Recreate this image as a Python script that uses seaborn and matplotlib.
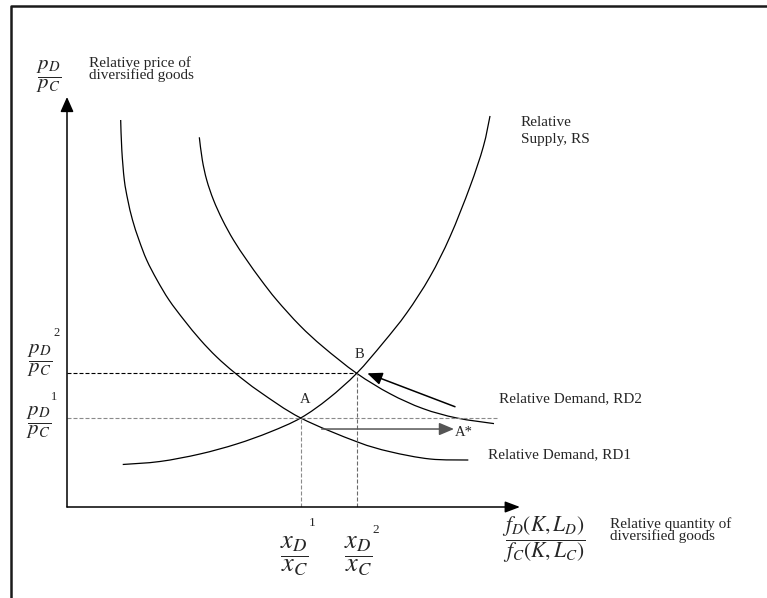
import matplotlib
matplotlib.use("Agg")
import matplotlib.pyplot as plt
from matplotlib.lines import Line2D
from matplotlib.path import Path
from matplotlib.patches import PathPatch
import numpy as np
import seaborn as sns

# Relative demand before the shift (RD1)
rd1_x = [1.185, 1.210, 1.265, 1.342, 1.446, 1.589, 1.759, 1.987, 2.252, 2.583,
         2.947, 3.305, 3.709, 4.260, 5.159, 6.395, 7.130, 8.013, 8.859]
rd1_y = [9.439, 8.707, 7.976, 7.488, 7.000, 6.512, 6.024, 5.537, 5.049, 4.561,
         4.073, 3.659, 3.268, 2.805, 2.171, 1.593, 1.349, 1.171, 1.146]

# Relative demand after the shift (RD2)
rd2_x = [2.921, 2.987, 3.084, 3.234, 3.433, 3.675, 3.967, 4.283, 4.629, 5.143,
         5.658, 6.395, 7.130, 7.859, 8.603, 9.426]
rd2_y = [9.017, 8.463, 7.976, 7.488, 7.000, 6.512, 6.024, 5.537, 5.049, 4.424,
         3.902, 3.261, 2.763, 2.400, 2.171, 2.034]

# Relative supply (RS)
rs_x = [1.230, 2.053, 2.936, 3.746, 4.481, 5.159, 5.777, 6.395, 6.976, 7.499,
        8.013, 8.455, 8.896, 9.190, 9.338]
rs_y = [1.037, 1.110, 1.293, 1.537, 1.829, 2.171, 2.649, 3.261, 4.000, 4.732,
        5.617, 6.593, 7.812, 8.788, 9.537]

# Equilibria: A (RS with RD1) and B (RS with RD2)
eq_names = ["A", "B"]
eq_x = [5.159, 6.395]
eq_y = [2.171, 3.261]

# Shift arrows: A -> A* at the old price, then back up to B
shift_start = [(5.622, 1.902), (8.565, 2.446)]
shift_end = [(8.543, 1.902), (6.629, 3.261)]
shift_colors = ["#555555", "black"]
gray_line_end = 9.514


def smooth_path(xs, ys):
    """Cubic Bezier path passing through every point (Catmull-Rom tangents)."""
    p = np.column_stack([xs, ys]).astype(float)
    n = len(p)
    verts = [p[0]]
    codes = [Path.MOVETO]
    for i in range(n - 1):
        p_prev = p[i - 1] if i > 0 else p[i]
        p_next2 = p[i + 2] if i + 2 < n else p[i + 1]
        c1 = p[i] + (p[i + 1] - p_prev) / 6.0
        c2 = p[i + 1] - (p_next2 - p[i]) / 6.0
        verts += [c1, c2, p[i + 1]]
        codes += [Path.CURVE4] * 3
    return Path(verts, codes)


sns.set_theme(style="white")
plt.rcParams["font.family"] = ["Liberation Serif", "DejaVu Serif"]
plt.rcParams["mathtext.fontset"] = "stix"

fig = plt.figure(figsize=(7.67, 5.98), dpi=100)
ax = fig.add_axes([67 / 767, 91 / 598, 453 / 767, 410 / 598])
ax.set_xlim(0, 10)
ax.set_ylim(0, 10)
ax.set_axis_off()

# Page border (top and left)
fig.add_artist(Line2D([11 / 767, 11 / 767, 1.0], [0.0, 1 - 6 / 598, 1 - 6 / 598],
                      transform=fig.transFigure, color="#1a1a1a", lw=1.8))

# Axes drawn as arrows
ax.annotate("", xy=(10, 0), xytext=(0, 0),
            arrowprops=dict(arrowstyle="-|>,head_length=0.45,head_width=0.17",
                            color="black", lw=1.1, shrinkA=0, shrinkB=0,
                            mutation_scale=20),
            annotation_clip=False)
ax.annotate("", xy=(0, 10), xytext=(0, 0),
            arrowprops=dict(arrowstyle="-|>,head_length=0.45,head_width=0.2",
                            color="black", lw=1.1, shrinkA=0, shrinkB=0,
                            mutation_scale=20),
            annotation_clip=False)

# Demand and supply curves
for xs, ys in [(rd1_x, rd1_y), (rd2_x, rd2_y), (rs_x, rs_y)]:
    ax.add_patch(PathPatch(smooth_path(xs, ys), fill=False, edgecolor="black",
                           lw=0.9, capstyle="butt"))

# Guide lines to the axes
dash = (0, (3.6, 1.8))
xa, xb = eq_x
ya, yb = eq_y
guides = [([0, gray_line_end], [ya, ya], "#8a8a8a"),
          ([0, xb], [yb, yb], "black"),
          ([xa, xa], [0, ya], "#8a8a8a"),
          ([xb, xb], [0, yb], "#6a6a6a")]
for gx, gy, gc in guides:
    sns.lineplot(x=gx, y=gy, sort=False, estimator=None, color=gc, lw=0.8,
                 linestyle=dash, ax=ax)

# Shift arrows
for (x0, y0), (x1, y1), c in zip(shift_start, shift_end, shift_colors):
    ax.annotate("", xy=(x1, y1), xytext=(x0, y0),
                arrowprops=dict(arrowstyle="-|>,head_length=0.45,head_width=0.19",
                                color=c, lw=1.1, shrinkA=0, shrinkB=0,
                                mutation_scale=20))

# Point labels
ax.text(xa + 0.095, ya + 0.46, eq_names[0], fontsize=10.5, ha="center", va="center")
ax.text(xb + 0.06, yb + 0.45, eq_names[1], fontsize=10.5, ha="center", va="center")
ax.text(8.565, 1.829, "A*", fontsize=10.5, ha="left", va="center")

# Curve labels
ax.text(9.536, 2.634, "Relative Demand, RD2", fontsize=11, ha="left", va="center")
ax.text(9.294, 1.268, "Relative Demand, RD1", fontsize=11, ha="left", va="center")
ax.text(10.022, 9.171, "Relative\nSupply, RS", fontsize=11, ha="left", va="center",
        linespacing=1.45)

# Axis titles
ax.text(0.486, 10.683, "Relative price of\ndiversified goods", fontsize=11,
        ha="left", va="center", linespacing=0.85)
ax.text(11.987, -0.561, "Relative quantity of\ndiversified goods", fontsize=11,
        ha="left", va="center", linespacing=0.85)
ax.text(-0.397, 10.5, r"$\dfrac{p_D}{p_C}$", fontsize=15, ha="center", va="center")
ax.text(10.530, -0.80, r"$\dfrac{f_D(K,L_D)}{f_C(K,L_C)}$", fontsize=15.5,
        ha="center", va="center")

# Price levels on the vertical axis
ax.text(-0.596, 3.56, r"$\dfrac{p_D}{p_C}$", fontsize=15, ha="center", va="center")
ax.text(-0.221, 4.244, "2", fontsize=9, ha="center", va="center")
ax.text(-0.629, 2.05, r"$\dfrac{p_D}{p_C}$", fontsize=15, ha="center", va="center")
ax.text(-0.287, 2.683, "1", fontsize=9, ha="center", va="center")

# Quantity levels on the horizontal axis
ax.text(5.022, -1.20, r"$\dfrac{x_D}{x_C}$", fontsize=19, ha="center", va="center")
ax.text(5.408, -0.390, "1", fontsize=9.5, ha="center", va="center")
ax.text(6.424, -1.20, r"$\dfrac{x_D}{x_C}$", fontsize=19, ha="center", va="center")
ax.text(6.821, -0.561, "2", fontsize=9.5, ha="center", va="center")

fig.savefig("out.png", dpi=100, facecolor="white")
